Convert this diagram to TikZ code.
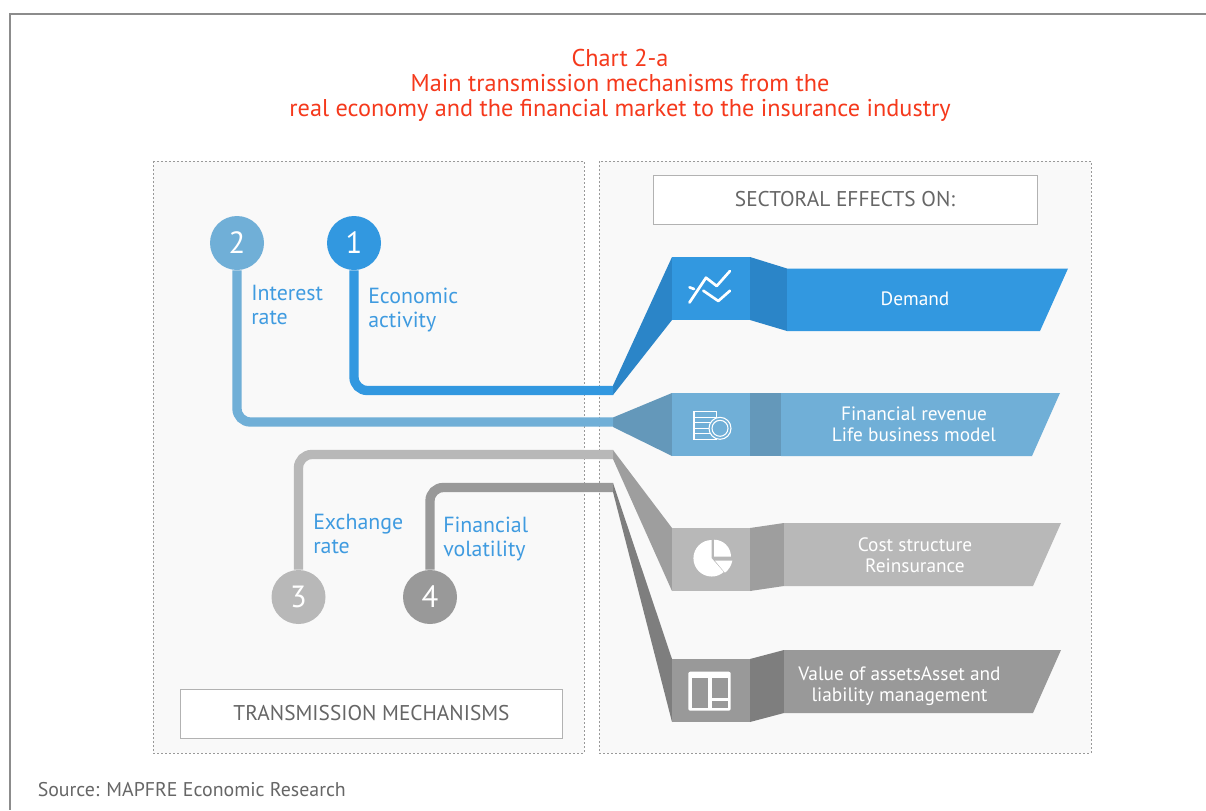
\documentclass[tikz,border=0pt]{standalone}
\usepackage{fontspec}
\setmainfont{PT Sans}
\definecolor{cblue}{HTML}{3298E0}
\definecolor{cblued}{HTML}{2B85C8}
\definecolor{clblue}{HTML}{70AFD7}
\definecolor{clblued}{HTML}{6498BA}
\definecolor{cgrey}{HTML}{B8B8B8}
\definecolor{cgreyd}{HTML}{9E9E9E}
\definecolor{cdgrey}{HTML}{999999}
\definecolor{cdgreyd}{HTML}{7E7E7E}
\definecolor{ctitle}{HTML}{F5391C}
\definecolor{clabel}{HTML}{3F9BE0}
\definecolor{ctext}{HTML}{666666}
\newcommand{\fs}[2]{\fontsize{#1}{#2}\selectfont}
\tikzset{
 x=0.75pt,y=-0.75pt,
 panel/.style={draw=black!40,fill=black!2.5,line width=0.75pt,dash pattern=on 1.5pt off 1.5pt},
 headbox/.style={draw=black!30,fill=white,line width=0.75pt,inner sep=0pt,text=ctext,font=\fs{16}{18}},
 numdot/.style={circle,minimum size=40.5pt,inner sep=0pt,text=white,font=\fs{23}{24}},
 link/.style={line width=7pt,rounded corners=10pt},
 mlabel/.style={anchor=north west,align=left,text=clabel,font=\fs{16.4}{18},inner sep=0pt},
 bandtext/.style={align=center,text=white,font=\fs{14.5}{15.75},inner sep=0pt},
 ic/.style={draw=white,line width=2pt,line cap=round,line join=round},
 icthin/.style={draw=white,line width=0.8pt},
}
\begin{document}
\begin{tikzpicture}
\useasboundingbox (0,0) rectangle (1206,810);
\fill[white] (0,0) rectangle (1206,810);
% frame
\draw[black!45,line width=1.5pt] (1206,14) -- (9.5,14) -- (9.5,810);
% title
\node[text=ctitle,align=center,font=\fs{18.2}{19},inner sep=0pt] (title) at (620,85.5)
 {Chart 2-a\\Main transmission mechanisms from the\\real economy and the financial market to the insurance industry};
% panels
\path[panel,draw] (153,161) rectangle (584,753);
\path[panel,draw] (599,161) rectangle (1091,753);
\node[headbox,minimum width=288pt,minimum height=36.75pt] (sect) at (845,199.5) {\raisebox{-0.8pt}{SECTORAL EFFECTS ON:}};
\node[headbox,minimum width=287pt,minimum height=36.75pt] (trans) at (371.5,713.5) {\raisebox{-0.8pt}{TRANSMISSION MECHANISMS}};
% connector ends
\coordinate (e1) at (613,390.5);
\coordinate (e2) at (613,422);
\coordinate (e3) at (613,454.5);
\coordinate (e4) at (613,487.5);
% row 1
\fill[cblued] (613,385.5) -- (672,257) -- (672,320) -- (613,395) -- cycle;
\fill[cblue] (672,257) rectangle (750,320);
\fill[cblued] (750,257) -- (787,268.5) -- (787,331) -- (750,320) -- cycle;
\fill[cblue] (787,268.5) -- (1068,268.5) -- (1040,331) -- (787,331) -- cycle;
% row 2
\fill[clblued] (613,417.5) -- (672,393) -- (672,456) -- (613,427) -- cycle;
\fill[clblue] (672,393) rectangle (750,456);
\fill[clblued] (750,393) rectangle (781,456);
\fill[clblue] (781,393) -- (1060,393) -- (1032,456) -- (781,456) -- cycle;
% row 3
\fill[cgreyd] (613,450) -- (672,528) -- (672,591) -- (613,459) -- cycle;
\fill[cgrey] (672,528) rectangle (750,591);
\fill[cgreyd] (750,528) -- (784,523) -- (784,586) -- (750,591) -- cycle;
\fill[cgrey] (784,523) -- (1061,523) -- (1033,586) -- (784,586) -- cycle;
% row 4
\fill[cdgreyd] (613,483) -- (672,659) -- (672,722) -- (613,492) -- cycle;
\fill[cdgrey] (672,659) rectangle (750,722);
\fill[cdgreyd] (750,659) -- (784,650) -- (784,713) -- (750,722) -- cycle;
\fill[cdgrey] (784,650) -- (1061,650) -- (1033,713) -- (784,713) -- cycle;
% circles
\node[numdot,fill=cblue] (n1) at (354,243) {1};
\node[numdot,fill=clblue] (n2) at (237,243) {2};
\node[numdot,fill=cgrey] (n3) at (298.5,597) {3};
\node[numdot,fill=cdgrey] (n4) at (430,597) {4};
% connectors
\draw[link,draw=cblue] (n1.south) |- (e1);
\draw[link,draw=clblue] (n2.south) |- (e2);
\draw[link,draw=cgrey] (n3.north) |- (e3);
\draw[link,draw=cdgrey] (n4.north) |- (e4);
% labels
\node[mlabel] (l1) at (368,288) {Economic\\activity};
\node[mlabel] (l2) at (251,285) {Interest\\rate};
\node[mlabel] (l3) at (313,514) {Exchange\\rate};
\node[mlabel] (l4) at (443,517) {Financial\\volatility};
% band text
\node[bandtext] (b1) at (915,298.5) {Demand};
\node[bandtext] (b2) at (914,424) {Financial revenue\\Life business model};
\node[bandtext] (b3) at (915,555) {Cost structure\\Reinsurance};
\node[bandtext] (b4) at (899.5,686.5) {Value of assetsAsset and\\liability management};
% icon 1
\draw[ic] (689.5,302.5) -- (706,277.7) -- (716.7,286) -- (730,271);
\draw[ic] (703.3,290.7) -- (718.3,301) -- (730,290.7);
\draw[ic] (689.5,287.3) -- (694,289);
% icon 2
\foreach \yy in {411.7,417.2,422.7,428.2,433.7}
  \draw[icthin] (694,\yy) rectangle (716.5,\yy+5.5);
\fill[clblue] (720,428.3) circle (11);
\draw[icthin] (720,428.3) circle (11);
\draw[icthin] (720,428.3) circle (8);
% icon 3
\fill[white] (711.7,558.3) -- (711.7,540) arc[start angle=90,delta angle=221,radius=13.7pt] -- cycle;
\fill[white] (714,556.7) -- (714,539.7) arc[start angle=90,delta angle=-90,radius=12.75pt] -- cycle;
\fill[white] (715,560.7) -- (732.3,560.7) .. controls (731.5,565) and (729,569.5) .. (725,572.7) -- cycle;
% icon 4
\fill[white,rounded corners=1.5pt] (688.3,671.7) rectangle (730.7,710.7);
\fill[cdgrey] (691.7,678.3) rectangle (708.3,707.7);
\fill[cdgrey] (711.7,678.3) rectangle (728.3,697.7);
\fill[cdgrey] (711.7,701) rectangle (728.3,707.7);
% source
\node[anchor=west,text=ctext,font=\fs{14.9}{16},inner sep=0pt] (src) at (37.5,790) {Source: MAPFRE Economic Research};
\end{tikzpicture}
\end{document}
